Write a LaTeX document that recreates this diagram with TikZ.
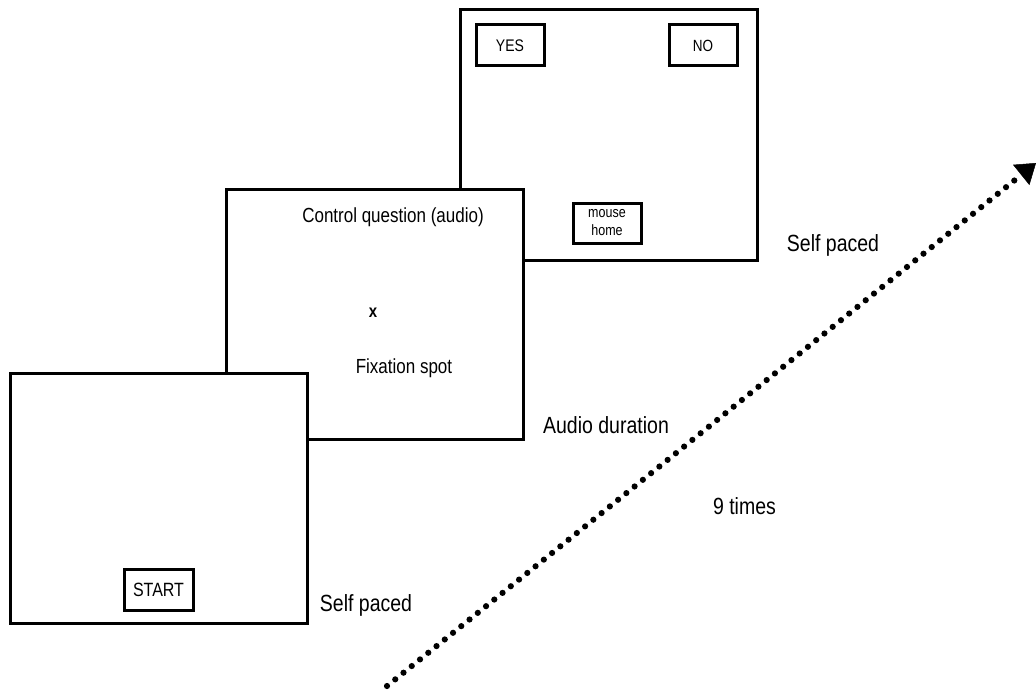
\documentclass[tikz,border=0pt]{standalone}
\usepackage{fontspec}
\setmainfont{Liberation Sans}
\usetikzlibrary{arrows.meta,calc}
\newcommand{\vs}[1]{\scalebox{1}[1.2]{#1}}
\begin{document}
\begin{tikzpicture}[x=1pt,y=-1pt,
  screen/.style={draw, line width=3pt, fill=white, minimum width=297pt, minimum height=250pt, inner sep=0pt},
  btn/.style={draw, line width=3pt, fill=white, minimum width=68pt, minimum height=41pt, inner sep=0pt, align=center},
  lbl/.style={inner sep=0pt, font=\fontsize{19.5}{22}\selectfont},
  intxt/.style={inner sep=0pt, font=\fontsize{17}{20}\selectfont}]
\useasboundingbox (0,0) rectangle (1036,693);
% screens (back to front)
\node[screen] (s3) at (609,135) {};
\node[screen] (s2) at (374.5,314) {};
\node[screen] (s1) at (158.5,498.5) {};
% screen 3 contents
\node[btn, font=\fontsize{14}{16}\selectfont] (yes) at (510,45.5) {\vs{YES}};
\node[btn, font=\fontsize{13.5}{16}\selectfont] (no) at (703,45.5) {\vs{NO}};
\node[btn, minimum height=40pt, font=\fontsize{12.5}{15}\selectfont] (mh) at (607,223) {\vs{\begin{tabular}{@{}c@{}}mouse\\[0pt]home\end{tabular}}};
% screen 2 contents
\node[intxt] (cq) at (393,217) {\vs{Control question (audio)}};
\node[inner sep=0pt, font=\fontsize{15}{17}\selectfont\bfseries] (fx) at (373,313) {\vs{x}};
\node[intxt] (fs) at (404,368) {\vs{Fixation spot}};
% screen 1 contents
\node[btn, minimum width=69pt, font=\fontsize{16}{19}\selectfont] (start) at (158.5,589.5) {\vs{START}};
% labels
\node[lbl] (sp1) at (833,245) {\vs{Self paced}};
\node[lbl] (ad) at (606,425) {\vs{Audio duration}};
\node[lbl] (nt) at (744.5,506) {\vs{9 times}};
\node[lbl] (sp2) at (366,605) {\vs{Self paced}};
% dotted arrow
\coordinate (a0) at (387,686);
\coordinate (a1) at (1036,163);
\coordinate (a2) at ($(a1)!18pt!(a0)$);
\draw[line width=6.2pt, line cap=round, dash pattern=on 0pt off 10.6pt] (a0) -- (a2);
\draw[line width=0.5pt, -{Triangle[length=19pt,width=26pt]}] (a2) -- (a1);
\end{tikzpicture}
\end{document}
